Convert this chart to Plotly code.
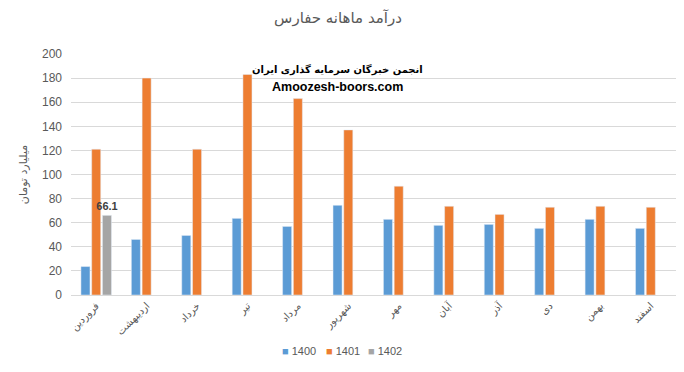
import plotly.graph_objects as go

months = ["فروردین", "اردیبهشت", "خرداد", "تیر", "مرداد", "شهریور",
          "مهر", "آبان", "آذر", "دی", "بهمن", "اسفند"]
v1400 = [23.6, 46.1, 49.4, 63.6, 56.9, 74.4, 62.8, 57.8, 58.6, 55.3, 62.8, 55.3]
v1401 = [121, 180, 121, 183, 163, 137, 90.3, 73.6, 66.9, 72.8, 73.6, 72.8]
v1402 = [66.1]
m1402 = months[:1]
series_names = ["1400", "1401", "1402"]
series_colors = ["#5B9BD5", "#ED7D31", "#A5A5A5"]

title_text = "درآمد ماهانه حفارس"
ytitle = "میلیارد تومان"
wm1 = "انجمن خبرگان سرمایه گذاری ایران"
wm2 = "Amoozesh-boors.com"

FONT = "Liberation Sans, DejaVu Sans, sans-serif"
GRAY = "#595959"

# the page body has an 8px default margin; work in page coordinates
OFF = 8
W, H = 684 - OFF, 372 - OFF
PL, PR, PT, PB = 71, 676, 54, 295          # plot area in page pixels
L, T = PL - OFF, PT - OFF
R, B = W - (PR - OFF), H - (PB - OFF)
PW, PH = PR - PL, PB - PT


def px(xp):
    return (xp - PL) / PW


def py(yp):
    return (PB - yp) / PH


fig = go.Figure()
fig.add_trace(go.Bar(name=series_names[0], x=months, y=v1400, marker_color=series_colors[0]))
fig.add_trace(go.Bar(name=series_names[1], x=months, y=v1401, marker_color=series_colors[1]))
fig.add_trace(go.Bar(name=series_names[2], x=m1402, y=v1402, marker_color=series_colors[2],
                     text=[f"<b>{v}</b>" for v in v1402], textposition="outside",
                     textfont=dict(size=11, color="#404040", family=FONT),
                     cliponaxis=False))

legend_x = [280, 324, 366]
legend_ann = []
for name, col, lx in zip(series_names, series_colors, legend_x):
    legend_ann.append(dict(
        text=f"<span style='color:{col}'>■</span> {name}",
        xref="paper", yref="paper", x=px(lx), y=py(351),
        xanchor="left", yanchor="middle", showarrow=False,
        font=dict(size=11, color=GRAY, family=FONT)))

fig.update_layout(
    width=W, height=H,
    paper_bgcolor="white", plot_bgcolor="white",
    margin=dict(l=L, r=R, t=T, b=B, autoexpand=False),
    barmode="group", bargap=0.36, bargroupgap=0.16,
    uniformtext=dict(minsize=11, mode="show"),
    font=dict(family=FONT, color=GRAY, size=11),
    title=dict(text=title_text, x=(338 - OFF) / W, xanchor="center",
               y=1 - (18 - OFF) / H, yanchor="middle",
               font=dict(size=15, color=GRAY, family="DejaVu Sans")),
    showlegend=False,
    xaxis=dict(tickangle=-45, tickfont=dict(size=10, color=GRAY, family="DejaVu Sans"),
               showline=True, linecolor="#D9D9D9", linewidth=1, ticks="", automargin=False),
    yaxis=dict(range=[0, 200], dtick=20, gridcolor="#D9D9D9", gridwidth=1,
               zeroline=False, showline=False, ticks="", automargin=False,
               ticklabelstandoff=8,
               tickfont=dict(size=12, color=GRAY),
               title=dict(text=ytitle, font=dict(size=11, color=GRAY, family="DejaVu Sans"),
                          standoff=12)),
    annotations=[
        dict(text="<b>" + wm1 + "</b>", xref="paper", yref="paper",
             x=px(337), y=py(69), xanchor="center", yanchor="middle",
             showarrow=False, font=dict(size=10, color="black", family="DejaVu Sans")),
        dict(text="<b>" + wm2 + "</b>", xref="paper", yref="paper",
             x=px(337), y=py(87), xanchor="center", yanchor="middle",
             showarrow=False, font=dict(size=12.5, color="black", family=FONT)),
    ] + legend_ann,
)

fig.write_html("out.html")
